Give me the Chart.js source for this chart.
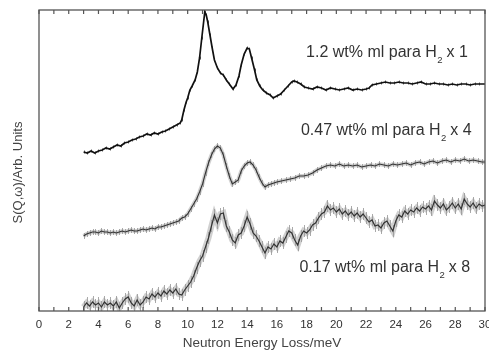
<!DOCTYPE html>
<html><head><meta charset="utf-8">
<script src="https://cdn.jsdelivr.net/npm/chart.js@4.4.1/dist/chart.umd.min.js"></script>
<style>html,body{margin:0;padding:0;background:#fff;}#wrap{width:489px;height:354px;}</style>
</head><body><div id="wrap"><canvas id="c" width="489" height="354"></canvas></div>
<script>
// ---- data (arbitrary units) ----
const energy1 = [3.0,3.25,3.5,3.75,4.0,4.25,4.5,4.75,5.0,5.25,5.5,5.75,6.0,6.25,6.5,6.75,7.0,7.25,7.5,7.75,8.0,8.25,8.5,8.75,9.0,9.25,9.5,9.6,9.75,9.9,10.0,10.15,10.3,10.5,10.65,10.8,10.95,11.05,11.15,11.25,11.35,11.5,11.65,11.8,12.0,12.2,12.4,12.6,12.8,13.05,13.25,13.45,13.6,13.8,14.0,14.15,14.3,14.5,14.65,14.85,15.05,15.3,15.55,15.75,16.0,16.25,16.5,16.75,17.0,17.15,17.35,17.6,17.85,18.1,18.4,18.7,19.0,19.3,19.6,19.9,20.2,20.5,20.8,21.1,21.4,21.7,22.0,22.2,22.4,22.7,23.0,23.3,23.6,23.9,24.2,24.5,24.8,25.1,25.4,25.7,26.0,26.3,26.6,26.9,27.2,27.5,27.8,28.1,28.4,28.7,29.0,29.3,29.6,30.0];
const intensity1 = [159,158,160,158,160,161,163,162,164,166,165,168,169,171,172,174,175,177,176,178,177,179,180,182,184,186,188,191,201,209,213,221,225,231,239,253,273,286,299,296,289,276,263,251,243,238,236,231,227,222,226,235,246,257,263,262,253,241,231,225,221,218,216,213,215,217,221,225,229,230,229,227,224,223,222,224,223,221,223,222,221,222,223,221,222,221,222,223,226,227,228,229,228,228,229,228,228,227,228,229,227,227,228,227,227,226,227,226,227,227,226,227,227,227];

const energy2 = [3.0,3.2,3.4,3.6,3.8,4.0,4.2,4.4,4.6,4.8,5.0,5.2,5.4,5.6,5.8,6.0,6.2,6.4,6.6,6.8,7.0,7.2,7.4,7.6,7.8,8.0,8.2,8.4,8.6,8.8,9.0,9.2,9.4,9.6,9.8,10.0,10.2,10.4,10.6,10.8,11.0,11.2,11.4,11.6,11.8,12.0,12.2,12.4,12.6,12.8,13.0,13.2,13.4,13.6,13.8,14.0,14.2,14.4,14.6,14.8,15.0,15.2,15.4,15.6,15.8,16.0,16.3,16.6,16.9,17.2,17.5,17.8,18.1,18.4,18.7,19.0,19.3,19.6,19.9,20.2,20.5,20.8,21.1,21.4,21.7,22.0,22.3,22.6,22.9,23.2,23.5,23.8,24.1,24.4,24.7,25.0,25.3,25.6,25.9,26.2,26.5,26.8,27.1,27.4,27.7,28.0,28.3,28.6,28.9,29.2,29.5,29.8,30.0];
const intensity2 = [75,77,78,79,79,78,80,79,79,78,79,78,79,80,79,80,81,80,80,81,82,81,82,83,82,84,84,85,86,87,88,89,90,93,94,97,102,107,112,119,127,138,148,156,162,165,163,156,145,135,127,129,131,140,145,148,149,146,141,134,128,124,126,127,128,129,130,131,132,133,135,135,136,138,141,143,145,146,145,147,145,146,145,146,144,145,146,145,147,146,145,147,146,147,148,146,148,149,147,149,150,148,150,151,149,151,150,152,150,151,150,149,149];

const energy3 = [3.0,3.2,3.4,3.6,3.8,4.0,4.2,4.4,4.6,4.8,5.0,5.2,5.4,5.6,5.8,6.0,6.2,6.4,6.6,6.8,7.0,7.2,7.4,7.6,7.8,8.0,8.2,8.4,8.6,8.8,9.0,9.2,9.4,9.6,9.8,10.0,10.2,10.4,10.6,10.8,11.0,11.2,11.4,11.6,11.8,12.0,12.2,12.4,12.6,12.8,13.0,13.2,13.4,13.6,13.8,14.0,14.2,14.4,14.6,14.8,15.0,15.2,15.4,15.6,15.8,16.0,16.2,16.4,16.6,16.8,17.0,17.2,17.4,17.6,17.8,18.0,18.2,18.4,18.6,18.8,19.0,19.2,19.4,19.6,19.8,20.0,20.2,20.4,20.6,20.8,21.0,21.2,21.4,21.6,21.8,22.0,22.2,22.4,22.6,22.8,23.0,23.2,23.4,23.6,23.8,24.0,24.2,24.4,24.6,24.8,25.0,25.2,25.4,25.6,25.8,26.0,26.2,26.4,26.6,26.8,27.0,27.2,27.4,27.6,27.8,28.0,28.2,28.4,28.6,28.8,29.0,29.2,29.4,29.6,29.8,30.0];
const intensity3 = [4,8,5,9,6,8,4,9,6,8,5,9,3,8,12,14,8,5,11,6,9,14,12,17,14,18,15,20,17,21,18,22,17,16,21,25,29,35,43,50,55,64,73,85,96,88,97,98,85,79,71,68,76,78,85,94,87,78,75,70,64,58,64,62,67,64,70,68,74,80,78,71,66,75,80,78,81,86,88,93,97,99,105,101,103,99,102,97,100,96,99,95,98,94,97,93,89,91,85,86,83,88,90,85,80,90,96,94,100,97,101,99,103,100,104,102,105,101,110,106,103,107,101,104,108,103,107,102,112,107,104,108,103,107,105,106];

const xTickValues = [0,2,4,6,8,10,12,14,16,18,20,22,24,26,28,30];
const seriesNames = ["1.2 wt% ml para H2 x 1","0.47 wt% ml para H2 x 4","0.17 wt% ml para H2 x 8"];
const labelHead = ["1.2 wt% ml para H","0.47 wt% ml para H","0.17 wt% ml para H"];
const labelSub = ["2","2","2"];
const labelTail = [" x 1"," x 4"," x 8"];
const xTitle = "Neutron Energy Loss/meV";
const yTitle = "S(Q,\u03c9)/Arb. Units";

const toPts = (xs, ys) => xs.map((x, i) => ({x: x, y: ys[i]}));
const FONT = '"Liberation Sans", Arial, sans-serif';

const deco = {
  id: 'deco',
  beforeDatasetsDraw(chart) {
    const {ctx} = chart;
    const xs = chart.scales.x, ys = chart.scales.y;
    const a = chart.chartArea;
    ctx.save();
    ctx.beginPath(); ctx.rect(a.left, a.top, a.right - a.left, a.bottom - a.top); ctx.clip();
    chart.data.datasets.forEach(ds => {
      if (!ds.errBar) return;
      ctx.strokeStyle = ds.errColor; ctx.lineWidth = 1;
      ds.data.forEach(p => {
        const px = Math.round(xs.getPixelForValue(p.x)) + 0.5;
        ctx.beginPath();
        ctx.moveTo(px, ys.getPixelForValue(p.y - ds.errBar));
        ctx.lineTo(px, ys.getPixelForValue(p.y + ds.errBar));
        ctx.stroke();
      });
    });
    ctx.restore();
  },
  afterDraw(chart, args, opts) {
    const {ctx} = chart;
    const xs = chart.scales.x, ys = chart.scales.y;
    const a = chart.chartArea;
    ctx.save();
    ctx.strokeStyle = '#555'; ctx.lineWidth = 1.3;
    ctx.strokeRect(a.left, a.top, a.right - a.left, a.bottom - a.top);
    ctx.lineWidth = 1.2;
    for (let v = 0; v <= 30; v++) {
      const px = xs.getPixelForValue(v);
      ctx.beginPath();
      ctx.moveTo(px, a.bottom); ctx.lineTo(px, a.bottom - 4);
      ctx.moveTo(px, a.top); ctx.lineTo(px, a.top + 4);
      ctx.stroke();
    }
    ctx.fillStyle = '#444';
    ctx.font = '13px ' + FONT;
    ctx.translate(18, (a.top + a.bottom) / 2 + 12);
    ctx.rotate(-Math.PI / 2);
    ctx.textAlign = 'center'; ctx.textBaseline = 'middle';
    ctx.fillText(yTitle, 0, 0);
    ctx.restore();
    ctx.save();
    ctx.fillStyle = '#333';
    ctx.textBaseline = 'middle';
    const big = '16px ' + FONT;
    const small = '9.5px ' + FONT;
    opts.labelPos.forEach((lp, i) => {
      const xr = xs.getPixelForValue(lp[0]);
      const yc = ys.getPixelForValue(lp[1]);
      ctx.font = big;
      const w1 = ctx.measureText(labelHead[i]).width;
      const w3 = ctx.measureText(labelTail[i]).width;
      ctx.font = small;
      const w2 = ctx.measureText(labelSub[i]).width;
      const x0 = xr - (w1 + w2 + w3);
      ctx.font = big; ctx.textAlign = 'left';
      ctx.fillText(labelHead[i], x0, yc);
      ctx.font = small;
      ctx.fillText(labelSub[i], x0 + w1 + 0.5, yc + 7);
      ctx.font = big;
      ctx.fillText(labelTail[i], x0 + w1 + w2, yc);
    });
    ctx.restore();
  }
};

new Chart(document.getElementById('c'), {
  type: 'line',
  data: {
    datasets: [
      {label: seriesNames[0], data: toPts(energy1, intensity1), borderColor: '#111', borderWidth: 1.7, pointRadius: 0, errBar: 1.5, errColor: '#666'},
      {label: seriesNames[1], data: toPts(energy2, intensity2), borderColor: '#333', borderWidth: 1.1, pointRadius: 0, errBar: 3, errColor: '#aaa'},
      {label: seriesNames[2], data: toPts(energy3, intensity3), borderColor: '#333', borderWidth: 1.2, pointRadius: 0, errBar: 6, errColor: '#aaa'},
      {label: 'band2', data: toPts(energy2, intensity2), borderColor: 'rgba(150,150,150,0.45)', borderWidth: 4, pointRadius: 0},
      {label: 'band3', data: toPts(energy3, intensity3), borderColor: 'rgba(150,150,150,0.45)', borderWidth: 6, pointRadius: 0}
    ]
  },
  options: {
    responsive: false, animation: false,
    layout: {padding: {left: 39, right: 4, top: 10, bottom: 0}},
    plugins: {legend: {display: false}, tooltip: {enabled: false},
      deco: {labelPos: [[28.85, 258], [29.1, 180], [29.0, 43]]}},
    elements: {line: {tension: 0}},
    scales: {
      x: {
        type: 'linear', min: 0, max: 30,
        afterFit(s) { s.paddingLeft = 0; s.paddingRight = 0; s.height = 43; },
        afterBuildTicks(s) { s.ticks = xTickValues.map(v => ({value: v})); },
        grid: {display: false}, border: {display: false},
        ticks: {color: '#333', font: {size: 11.5, family: FONT}, padding: -1, maxRotation: 0, autoSkip: false},
        title: {display: true, text: xTitle, color: '#444', font: {size: 13.5, family: FONT}, padding: {top: 0, bottom: 3}}
      },
      y: {display: false, min: 0, max: 301}
    }
  },
  plugins: [deco]
});
</script></body></html>
